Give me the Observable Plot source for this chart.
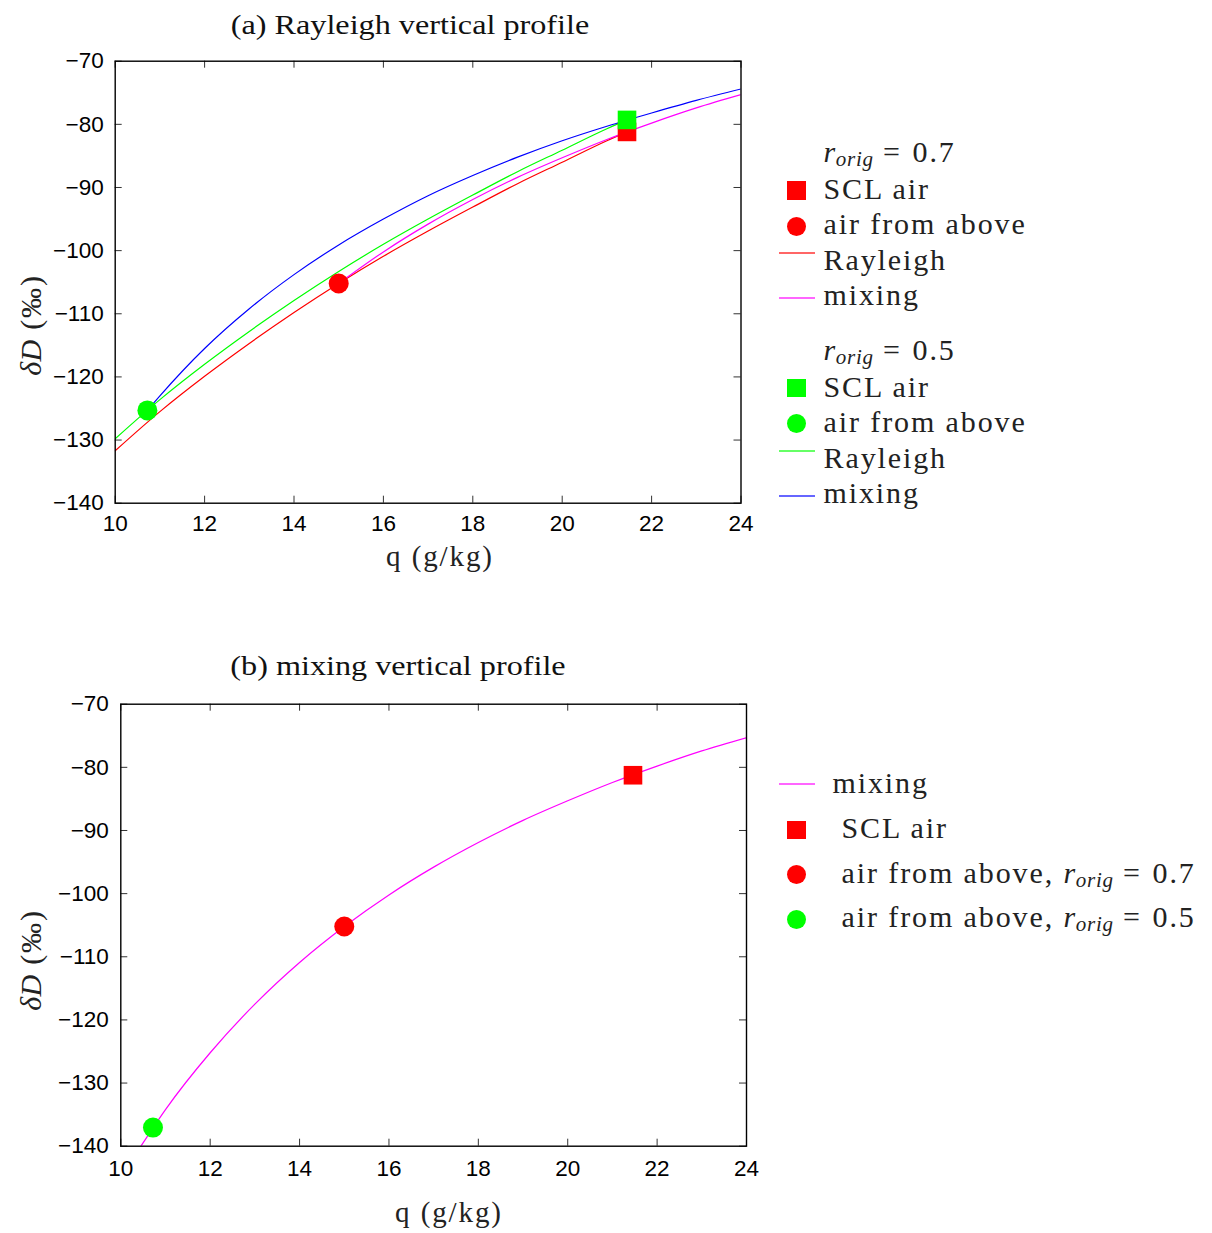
<!DOCTYPE html>
<html>
<head>
<meta charset="utf-8">
<script src="https://cdn.jsdelivr.net/npm/d3@7"></script>
<script src="https://cdn.jsdelivr.net/npm/@observablehq/plot@0.6"></script>
<style>
  body { margin: 0; background: #fff; }
  #root { position: relative; width: 1212px; height: 1233px; overflow: hidden; background: #fff; }
  .abs { position: absolute; white-space: nowrap; }
  .cm { font-family: "Liberation Serif", serif; color: #222; letter-spacing: 1.9px; }
  .ttl { font-family: "Liberation Serif", serif; color: #111; }
  .mi { font-style: italic; letter-spacing: 0.5px; }
  .sub { font-style: italic; font-size: 0.7em; position: relative; top: 4px; letter-spacing: 0.8px; }
  .eq { display: inline-block; margin: 0 0.36em 0 0.3em; }
  svg { position: absolute; }
</style>
</head>
<body>
<div id="root"></div>
<script>
// ---------------- data ----------------
const xTicks = [10, 12, 14, 16, 18, 20, 22, 24];
const yTicks = [-140, -130, -120, -110, -100, -90, -80, -70];

// Panel (a): Rayleigh vertical profile
const rayleighQ07 = [10, 11, 12, 13, 14, 15, 16, 17, 18, 19, 20, 21, 21.45];
const rayleighD07 = [-131.7, -125.5, -119.9, -114.7, -109.8, -105.2, -100.9, -96.9, -93.1, -89.4, -86.0, -82.6, -81.2];
const rayleighQ05 = [10, 11, 12, 13, 14, 15, 16, 17, 18, 19, 20, 21, 21.45];
const rayleighD05 = [-129.8, -123.6, -118.0, -112.8, -107.9, -103.3, -99.0, -95.0, -91.2, -87.5, -84.1, -80.7, -79.3];
const mixingQ07 = [15, 16, 17, 18, 19, 20, 21, 22, 23, 24];
const mixingD07 = [-105.2, -100.2, -95.8, -91.9, -88.4, -85.3, -82.4, -79.8, -77.4, -75.3];
const mixingQ05 = [10.72, 11, 12, 13, 14, 15, 16, 17, 18, 19, 20, 21, 22, 23, 24];
const mixingD05 = [-125.3, -123.0, -115.5, -109.2, -103.8, -99.1, -95.0, -91.3, -88.1, -85.2, -82.6, -80.3, -78.2, -76.2, -74.4];
const sclQ_a = [21.45, 21.45];
const sclD_a = [-81.2, -79.3];          // r_orig = 0.7, 0.5
const aboveQ_a = [15.0, 10.72];
const aboveD_a = [-105.2, -125.3];      // r_orig = 0.7, 0.5
const seriesR = ["0.7", "0.5"];

// Panel (b): mixing vertical profile
const mixingQ_b = [10.45, 11, 12, 13, 14, 15, 16, 17, 18, 19, 20, 21, 22, 23, 24];
const mixingD_b = [-140.0, -134.2, -125.2, -117.5, -110.9, -105.2, -100.2, -95.8, -91.9, -88.4, -85.3, -82.4, -79.8, -77.4, -75.3];
const sclQ_b = [21.46];
const sclD_b = [-81.25];
const aboveQ_b = [15.0, 10.72];
const aboveD_b = [-105.2, -137.05];     // r_orig = 0.7, 0.5

const legendLabels = ["SCL air", "air from above", "Rayleigh", "mixing"];
const colors = { red: "#ff0000", green: "#00ff00", blue: "#0000ff", magenta: "#ff00ff" };

// ---------------- helpers ----------------
const root = document.getElementById("root");
const table = (qs, ds) => qs.map((q, i) => ({ q, d: ds[i] }));
const fmtY = d => (d < 0 ? "\u2212" + Math.abs(d) : String(d));

function panel({ top, ml, mr, mt, mb, padX, padY, marks }) {
  const W = 760, H = 500;
  const pw = W - ml - mr, ph = H - mt - mb;
  const tickLen = 7;
  const svg = Plot.plot({
    width: W, height: H,
    marginLeft: ml, marginRight: mr, marginTop: mt, marginBottom: mb,
    x: { domain: [10, 24], label: null },
    y: { domain: [-140, -70], label: null },
    style: { background: "transparent", fontFamily: "'Liberation Sans', Arial, sans-serif", fontSize: "22.5px", color: "#000", overflow: "visible" },
    marks: [
      ...marks,
      Plot.tickY(yTicks, { y: d => d, insetRight: pw - tickLen, stroke: "#333" }),
      Plot.tickY(yTicks, { y: d => d, insetLeft: pw - tickLen, stroke: "#333" }),
      Plot.tickX(xTicks, { x: d => d, insetTop: ph - tickLen, stroke: "#333" }),
      Plot.tickX(xTicks, { x: d => d, insetBottom: ph - tickLen, stroke: "#333" }),
      Plot.axisX(xTicks, { tickSize: 0, tickPadding: padX, tickFormat: d => String(d), fontSize: 22.5, label: null }),
      Plot.axisY(yTicks, { tickSize: 0, tickPadding: padY, tickFormat: fmtY, fontSize: 22.5, label: null }),
      Plot.frame({ stroke: "#000", strokeWidth: 1.4 })
    ]
  });
  svg.style.left = "0px";
  svg.style.top = top + "px";
  root.appendChild(svg);
}

function text(html, x, baseline, size, cls, align, sx) {
  const d = document.createElement("div");
  d.className = "abs " + cls;
  d.style.fontSize = size + "px";
  d.style.lineHeight = size + "px";
  d.style.left = x + "px";
  d.style.top = (baseline - 0.8375 * size) + "px";
  if (align === "center") {
    d.style.transform = "translateX(-50%)" + (sx ? ` scaleX(${sx})` : "");
  }
  d.innerHTML = html;
  root.appendChild(d);
  return d;
}
function vlabel(html, cx, cy, size) {
  const d = document.createElement("div");
  d.className = "abs cm";
  d.style.fontSize = size + "px";
  d.style.lineHeight = size + "px";
  d.style.left = cx + "px";
  d.style.top = cy + "px";
  d.style.transform = "translate(-50%,-50%) rotate(-90deg)";
  d.innerHTML = html;
  root.appendChild(d);
}
function sym(kind, color, cx, cy) {
  const d = document.createElement("div");
  d.className = "abs";
  if (kind === "square") {
    Object.assign(d.style, { left: (cx - 9.3) + "px", top: (cy - 9.3) + "px", width: "18.6px", height: "18.6px", background: color });
  } else if (kind === "circle") {
    Object.assign(d.style, { left: (cx - 9.5) + "px", top: (cy - 9.5) + "px", width: "19px", height: "19px", background: color, borderRadius: "50%" });
  } else {
    Object.assign(d.style, { left: (cx - 18) + "px", top: Math.round(cy - 1) + "px", width: "36px", height: "2px", background: color, opacity: 0.6 });
  }
  root.appendChild(d);
}
const rOrig = v => `<span class="mi">r</span><span class="sub">orig</span><span class="eq">=</span>${v}`;

// ---------------- panel (a) ----------------
panel({
  top: 45, ml: 114.7, mr: 19.5, mt: 15.7, mb: 42.3, padX: 12, padY: 11.5,
  marks: [
    Plot.line(table(rayleighQ07, rayleighD07), { x: "q", y: "d", stroke: colors.red, strokeWidth: 1.2, curve: "monotone-x", clip: true }),
    Plot.line(table(rayleighQ05, rayleighD05), { x: "q", y: "d", stroke: colors.green, strokeWidth: 1.2, curve: "monotone-x", clip: true }),
    Plot.line(table(mixingQ07, mixingD07), { x: "q", y: "d", stroke: colors.magenta, strokeWidth: 1.2, curve: "monotone-x", clip: true }),
    Plot.line(table(mixingQ05, mixingD05), { x: "q", y: "d", stroke: colors.blue, strokeWidth: 1.2, curve: "monotone-x", clip: true }),
    Plot.dot(table(sclQ_a, sclD_a).map((p, i) => ({ ...p, r: seriesR[i] })), { x: "q", y: "d", symbol: "square", r: 10.5, fill: d => d.r === "0.7" ? colors.red : colors.green, stroke: null }),
    Plot.dot(table(aboveQ_a, aboveD_a).map((p, i) => ({ ...p, r: seriesR[i] })), { x: "q", y: "d", r: 10, fill: d => d.r === "0.7" ? colors.red : colors.green, stroke: null })
  ]
});

// ---------------- panel (b) ----------------
panel({
  top: 690, ml: 120.3, mr: 14, mt: 13.7, mb: 44.3, padX: 14, padY: 12,
  marks: [
    Plot.line(table(mixingQ_b, mixingD_b), { x: "q", y: "d", stroke: colors.magenta, strokeWidth: 1.2, curve: "monotone-x", clip: true }),
    Plot.dot(table(sclQ_b, sclD_b), { x: "q", y: "d", symbol: "square", r: 10.5, fill: colors.red, stroke: null }),
    Plot.dot(table(aboveQ_b, aboveD_b).map((p, i) => ({ ...p, r: seriesR[i] })), { x: "q", y: "d", r: 10, fill: d => d.r === "0.7" ? colors.red : colors.green, stroke: null })
  ]
});

// ---------------- titles & axis labels ----------------
text("(a) Rayleigh vertical profile", 410, 34, 28, "ttl", "center", 1.15);
text("(b) mixing vertical profile", 398, 675, 28, "ttl", "center", 1.15);
text("q (g/kg)", 440, 566, 29, "cm", "center");
text("q (g/kg)", 449, 1222, 29, "cm", "center");
vlabel('<span class="mi">δD</span> (‰)', 31, 325, 30);
vlabel('<span class="mi">δD</span> (‰)', 31, 960, 30);

// ---------------- legend (a) ----------------
const LX = 823.5, SX = 796.5;
text(rOrig(seriesR[0]), LX, 162, 30, "cm");
sym("square", colors.red, SX, 190.5); text(legendLabels[0], LX, 199, 30, "cm");
sym("circle", colors.red, SX, 226);   text(legendLabels[1], LX, 234.5, 30, "cm");
sym("line", colors.red, SX, 253);     text(legendLabels[2], LX, 270.5, 30, "cm");
sym("line", colors.magenta, SX, 297.5); text(legendLabels[3], LX, 305.5, 30, "cm");
text(rOrig(seriesR[1]), LX, 360, 30, "cm");
sym("square", colors.green, SX, 388); text(legendLabels[0], LX, 397, 30, "cm");
sym("circle", colors.green, SX, 423.5); text(legendLabels[1], LX, 432, 30, "cm");
sym("line", colors.green, SX, 451);   text(legendLabels[2], LX, 468.5, 30, "cm");
sym("line", colors.blue, SX, 495.5);  text(legendLabels[3], LX, 503.5, 30, "cm");

// ---------------- legend (b) ----------------
sym("line", colors.magenta, SX, 784);  text(legendLabels[3], 832.5, 793.5, 30, "cm");
sym("square", colors.red, SX, 830);    text(legendLabels[0], 841.5, 838.5, 30, "cm");
sym("circle", colors.red, SX, 874.5);  text(legendLabels[1] + ", " + rOrig(seriesR[0]), 841.5, 883.5, 30, "cm");
sym("circle", colors.green, SX, 919.5); text(legendLabels[1] + ", " + rOrig(seriesR[1]), 841.5, 927.5, 30, "cm");
</script>
</body>
</html>
